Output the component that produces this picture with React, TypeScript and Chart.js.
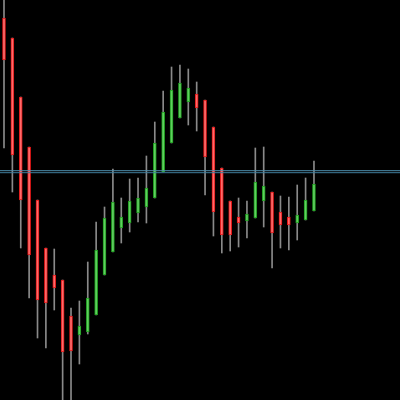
import React, { useEffect, useRef } from "react";
import { Chart, registerables } from "chart.js";

Chart.register(...registerables);

// Candle index positions (bar number)
const candleIndex: number[] = Array.from({ length: 38 }, (_, i) => i);

// OHLC values (price units)
const opens: number[] = [382, 362, 303, 253, 200, 152, 125, 120, 84, 65, 68, 85, 125, 148, 172, 177, 187, 193, 202, 228, 257, 282, 298, 306, 300, 273, 232, 199, 183, 179, 182, 199, 208, 188, 183, 177, 180, 189];
const highs: number[] = [402, 362, 303, 253, 200, 152, 151, 120, 92, 99, 138, 178, 193, 231, 202, 221, 222, 244, 278, 309, 333, 335, 331, 318, 300, 273, 232, 199, 202, 199, 252, 253, 208, 204, 203, 215, 222, 239];
const lows: number[] = [252, 208, 152, 102, 62, 52, 90, -2, -2, 36, 66, 85, 125, 148, 157, 168, 178, 177, 202, 228, 257, 282, 275, 269, 205, 164, 147, 149, 153, 162, 182, 173, 132, 152, 150, 160, 180, 189];
const closes: number[] = [340, 245, 200, 145, 100, 97, 112, 48, 49, 74, 102, 150, 182, 198, 183, 199, 202, 212, 257, 288, 310, 317, 312, 292, 243, 188, 165, 165, 177, 186, 218, 214, 167, 175, 175, 185, 200, 216];

// Two horizontal price lines (bid / ask)
const priceLines: number[] = [229.3, 227.3];
const priceLineColors: string[] = ["#4f8fae", "#3f7d9c"];

const X_MIN = -0.477;
const X_MAX = 47.27;

export default function App() {
  const ref = useRef<HTMLCanvasElement | null>(null);

  useEffect(() => {
    document.body.style.margin = "0";
    document.body.style.background = "#000";
    const canvas = ref.current;
    if (!canvas) return;

    const bodies = candleIndex.map((i) => ({ x: i, y: [opens[i], closes[i]] }));
    const wicks = candleIndex.map((i) => ({ x: i, y: [lows[i], highs[i]] }));
    const isUp = candleIndex.map((i) => closes[i] >= opens[i]);

    const lineSets = priceLines.map((v, k) => ({
      type: "line" as const,
      data: [
        { x: X_MIN - 1, y: v },
        { x: X_MAX + 1, y: v },
      ],
      borderColor: priceLineColors[k],
      borderWidth: 1,
      pointRadius: 0,
      order: 0,
    }));

    const chart = new Chart(canvas, {
      type: "bar",
      data: {
        datasets: [
          ...lineSets,
          {
            type: "bar",
            data: bodies as any,
            backgroundColor: isUp.map((u) => (u ? "#5fd05f" : "#ff6a6a")),
            borderColor: isUp.map((u) => (u ? "#1f9a1f" : "#e01818")),
            borderWidth: 1,
            borderSkipped: false,
            barThickness: 3,
            grouped: false,
            order: 1,
          } as any,
          {
            type: "bar",
            data: wicks as any,
            backgroundColor: "#8a8a8a",
            borderWidth: 0,
            barThickness: 1,
            grouped: false,
            order: 2,
          } as any,
        ],
      },
      options: {
        animation: false,
        responsive: false,
        maintainAspectRatio: false,
        layout: { padding: 0 },
        plugins: { legend: { display: false }, tooltip: { enabled: false } },
        scales: {
          x: { type: "linear", display: false, min: X_MIN, max: X_MAX, offset: false },
          y: { type: "linear", display: false, min: 0, max: 400 },
        },
      },
    });
    return () => chart.destroy();
  }, []);

  return (
    <div style={{ width: 400, height: 400, background: "#000" }}>
      <canvas ref={ref} width={400} height={400} style={{ display: "block", background: "#000" }} />
    </div>
  );
}
